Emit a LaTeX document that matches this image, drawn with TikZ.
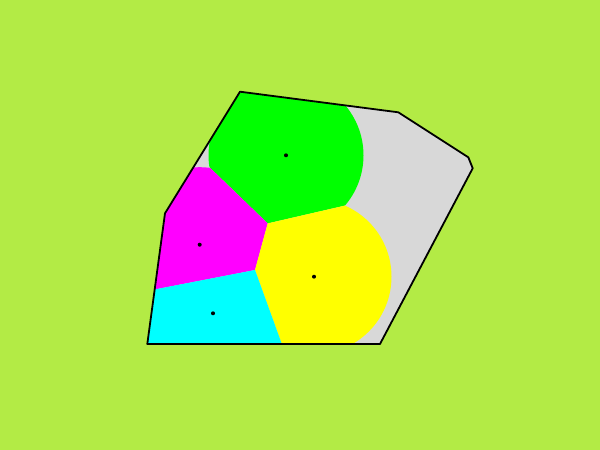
\documentclass[tikz,border=0pt]{standalone}
\definecolor{bgcol}{HTML}{B3EB45}
\definecolor{hullgray}{HTML}{D8D8D8}
\definecolor{cellgreen}{HTML}{00FF00}
\definecolor{cellmag}{HTML}{FF00FF}
\definecolor{cellcyan}{HTML}{00FFFF}
\definecolor{cellyel}{HTML}{FFFF00}
\newcommand{\hullpath}{(p1) -- (p2) -- (p3) -- (p4) -- (p5) -- (p6) -- (p7) -- cycle}
\newcommand{\rad}{77.5pt}
\begin{document}
\begin{tikzpicture}[x=1pt,y=-1pt]
\useasboundingbox (0,0) rectangle (600,450);
\fill[bgcol] (0,0) rectangle (600,450);
% hull
\coordinate (p1) at (240,91.7);
\coordinate (p2) at (398.3,112.3);
\coordinate (p3) at (468.3,157.3);
\coordinate (p4) at (472.7,168.3);
\coordinate (p5) at (380,344);
\coordinate (p6) at (147.3,344);
\coordinate (p7) at (165,213.3);
\fill[hullgray] \hullpath;
% sites
\coordinate (g) at (286,155.3);
\coordinate (m) at (199.7,244.7);
\coordinate (y) at (314,276.7);
\coordinate (c) at (213,313.3);
% cell corners
\coordinate (gmy) at (267.7,223.4);
\coordinate (myc) at (255,270);
\coordinate (gm) at (88.9,50.8);
\coordinate (gy) at (631.9,139.4);
\coordinate (cy) at (328.2,472);
\coordinate (mc) at (49.2,309.9);
% green
\begin{scope}
\clip \hullpath;
\clip (g) circle[radius=\rad];
\fill[cellgreen] (gm) -- (gmy) -- (gy) -- (631.9,0) -- (88.9,0) -- cycle;
\end{scope}
% magenta
\begin{scope}
\clip \hullpath;
\clip (m) circle[radius=\rad];
\fill[cellmag] (gm) -- (gmy) -- (myc) -- (mc) -- (0,309.9) -- (0,50.8) -- cycle;
\end{scope}
% yellow
\begin{scope}
\clip \hullpath;
\clip (y) circle[radius=\rad];
\fill[cellyel] (gmy) -- (gy) -- (631.9,472) -- (cy) -- (myc) -- cycle;
\end{scope}
% cyan
\begin{scope}
\clip \hullpath;
\clip (c) circle[radius=\rad];
\fill[cellcyan] (myc) -- (cy) -- (0,472) -- (mc) -- cycle;
\end{scope}
\draw[line width=1.8pt, line join=round] \hullpath;
\foreach \s in {g,m,y,c}
  \fill (\s) circle[radius=2pt];
\end{tikzpicture}
\end{document}
